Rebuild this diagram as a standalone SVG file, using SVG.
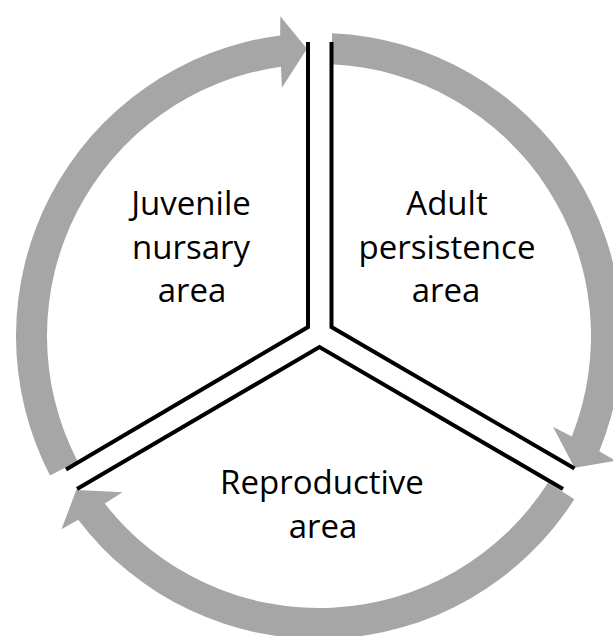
<svg xmlns="http://www.w3.org/2000/svg" width="613" height="636" viewBox="0 0 613 636">
  <style>
    .arrow { fill: #A6A6A6; stroke: none; }
    .divider { fill: none; stroke: #000; stroke-width: 4; stroke-linejoin: miter; stroke-linecap: butt; }
    .label { font-family: "Open Sans", "Noto Sans", sans-serif; font-size: 33px; fill: #000; text-anchor: middle; }
  </style>
  <rect width="613" height="636" fill="#fff"/>
  <g id="connectors">
    <path id="arrow-juvenile-to-adult" class="arrow" d="M49.99,475.44 A303,303 0 0 1 280.18,35.50 L280.31,16.33 L306.96,48.75 L281.90,87.76 L280.96,66.67 A272,272 0 0 0 77.51,461.17 Z"/>
    <path id="arrow-adult-to-reproductive" class="arrow" d="M332.22,33.29 A303,303 0 0 1 599.25,451.17 L615.84,460.78 L574.48,467.86 L553.01,426.77 L571.80,436.39 A272,272 0 0 0 330.86,64.26 Z"/>
    <path id="arrow-reproductive-to-juvenile" class="arrow" d="M574.28,499.25 A303,303 0 0 1 78.17,519.87 L61.50,529.30 L76.26,490.05 L122.56,492.25 L104.78,503.62 A272,272 0 0 0 548.17,482.55 Z"/>
  </g>
  <g id="dividers">
    <polyline class="divider" points="308,42 308,327 66,469.5"/>
    <polyline class="divider" points="331.5,42 331.5,327 574.5,468.5"/>
    <polyline class="divider" points="77,489 319.5,347 563,489"/>
  </g>
  <g id="node-juvenile">
    <text class="label" x="191" y="215">Juvenile</text>
    <text class="label" x="191" y="258.5">nursary</text>
    <text class="label" x="192" y="302">area</text>
  </g>
  <g id="node-adult">
    <text class="label" x="447" y="215">Adult</text>
    <text class="label" x="447" y="258.5">persistence</text>
    <text class="label" x="446" y="302">area</text>
  </g>
  <g id="node-reproductive">
    <text class="label" x="322" y="493.5">Reproductive</text>
    <text class="label" x="323" y="537.5">area</text>
  </g>
</svg>
